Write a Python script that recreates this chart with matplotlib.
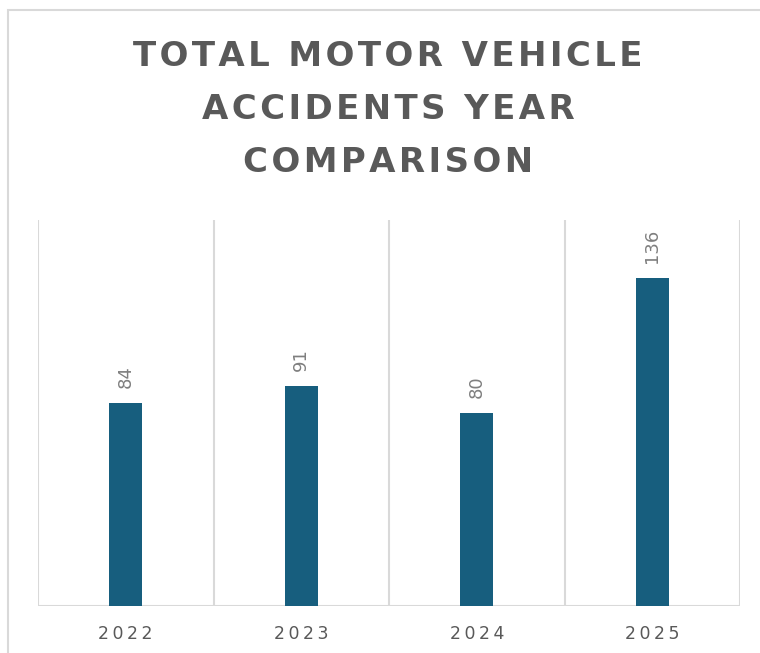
import matplotlib.pyplot as plt
from matplotlib.patches import Rectangle

years = ['2022', '2023', '2024', '2025']
accidents = [84, 91, 80, 136]

title_lines = ['TOTAL MOTOR VEHICLE', 'ACCIDENTS YEAR', 'COMPARISON']
bar_color = '#175E7E'
grid_color = '#d9d9d9'
text_color = '#595959'


def spaced(s, sep='\u2009'):
    # fake letter spacing
    return sep.join(s)


fig = plt.figure(figsize=(7.6, 6.53), dpi=100)
fig.patch.set_facecolor('white')

# outer chart border (cropped on right/bottom)
fig.patches.append(Rectangle((8 / 760, -0.05), 1.2, 1 - 10 / 653 + 0.05,
                             transform=fig.transFigure, fill=False,
                             edgecolor=grid_color, linewidth=1.5))

ax = fig.add_axes([38 / 760, 1 - 606 / 653, (740 - 38) / 760, (606 - 220) / 653])
x = range(len(years))
ax.bar(x, accidents, width=0.19, color=bar_color, zorder=3)
ax.set_xlim(-0.5, len(years) - 0.5)
ax.set_ylim(0, 160)

for b in [i - 0.5 for i in range(len(years) + 1)]:
    ax.axvline(b, color=grid_color, linewidth=1.5, zorder=1)
ax.axhline(0, color=grid_color, linewidth=1.5, zorder=2)

for i, v in enumerate(accidents):
    ax.annotate(str(v), (i, v), xytext=(0, 11), textcoords='offset points',
                rotation=90, ha='center', va='bottom', fontsize=13, color='#7f7f7f')

for s in ax.spines.values():
    s.set_visible(False)
ax.set_yticks([])
ax.set_xticks(list(x))
ax.set_xticklabels([spaced(y) for y in years], fontsize=12.5, color=text_color)
ax.tick_params(axis='x', length=0, pad=14)

for k, line in enumerate(title_lines):
    fig.text(388 / 760, 1 - (57 + 52.5 * k) / 653, spaced(line, '\u200a'),
             ha='center', va='center', fontsize=24.5, fontweight='bold', color=text_color)

fig.savefig('out.png', dpi=100)
